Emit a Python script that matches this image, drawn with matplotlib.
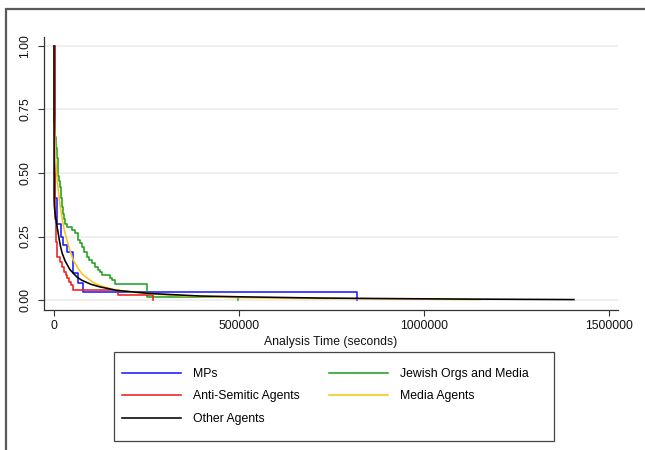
import matplotlib
matplotlib.use("Agg")
import matplotlib.pyplot as plt
from matplotlib.patches import Rectangle

plt.rcParams['font.family'] = ['Liberation Sans', 'DejaVu Sans']

# Kaplan-Meier survival estimates by agent group (time in seconds)
mp_t = [0, 1500, 4000, 9000, 19000, 25200, 34300, 51000, 65700, 79000, 818000]
mp_s = [1.0, 0.55, 0.40, 0.30, 0.25, 0.217, 0.188, 0.105, 0.066, 0.033, 0.0]

jo_t = [0, 900, 3000, 5500, 7300, 9500, 11700, 14000, 16200, 18500,
        20800, 24000, 27000, 29700, 34300, 50000, 56000, 64000, 70300, 76000,
        82000, 88400, 95000, 102000, 110000, 118000, 124300, 130000, 150000, 156000,
        165000, 250500, 497000]
jo_s = [1.0, 0.70, 0.64, 0.60, 0.56, 0.52, 0.49, 0.47, 0.446, 0.40,
        0.367, 0.34, 0.32, 0.30, 0.289, 0.276, 0.262, 0.236, 0.223, 0.21,
        0.19, 0.17, 0.157, 0.144, 0.131, 0.118, 0.111, 0.098, 0.085, 0.079,
        0.063, 0.013, 0.0]

as_t = [0, 1500, 3000, 5000, 7300, 16200, 22000, 27000, 31500, 36000, 41000, 46000,
        50500, 174000, 268000]
as_s = [1.0, 0.45, 0.32, 0.23, 0.17, 0.151, 0.131, 0.111, 0.098, 0.085, 0.072, 0.059,
        0.039, 0.02, 0.0]

md_t = [0, 300, 1500, 4000, 7000, 11700, 16000, 20800, 27000, 34300,
        43000, 52200, 65000, 75000, 88400, 105000, 124300, 160000, 213500, 260000,
        305000, 400000, 484000, 650000, 850000, 1000000, 1151000]
md_s = [1.0, 0.75, 0.66, 0.57, 0.50, 0.43, 0.38, 0.33, 0.28, 0.24,
        0.195, 0.157, 0.125, 0.105, 0.088, 0.07, 0.057, 0.042, 0.031, 0.025,
        0.02, 0.014, 0.01, 0.007, 0.005, 0.004, 0.002]

ot_t = [0, 300, 1000, 2700, 6000, 11700, 17000, 22000, 29700, 43000, 61000, 75000,
        100000, 124000, 170000, 259000, 395000, 500000, 720000, 900000, 1100000, 1405000]
ot_s = [1.0, 0.40, 0.37, 0.345, 0.31, 0.26, 0.215, 0.185, 0.155, 0.12, 0.092, 0.078,
        0.062, 0.052, 0.038, 0.026, 0.016, 0.013, 0.008, 0.006, 0.004, 0.002]

x_ticks = [0, 500000, 1000000, 1500000]
y_ticks = [0.0, 0.25, 0.5, 0.75, 1.0]
y_labels = ['0.00', '0.25', '0.50', '0.75', '1.00']

fig = plt.figure(figsize=(6.45, 4.5), dpi=100)
ax = fig.add_axes([44 / 645, 1 - 310 / 450, 574 / 645, 273 / 450])

lw = 1.15
h_mp, = ax.plot(mp_t, mp_s, drawstyle='steps-post', color='#1a1aff', lw=lw, label='MPs')
h_jo, = ax.plot(jo_t, jo_s, drawstyle='steps-post', color='#22a022', lw=lw,
                label='Jewish Orgs and Media')
h_as, = ax.plot(as_t, as_s, drawstyle='steps-post', color='#f01e1e', lw=lw,
                label='Anti-Semitic Agents')
h_md, = ax.plot(md_t, md_s, color='#f5c518', lw=lw, label='Media Agents')
h_ot, = ax.plot(ot_t, ot_s, color='black', lw=lw, label='Other Agents')

ax.set_xlim(-27000, 1524000)
ax.set_ylim(-0.039, 1.035)
ax.set_xticks(x_ticks)
ax.set_xticklabels([str(v) for v in x_ticks])
ax.set_yticks(y_ticks)
ax.set_yticklabels(y_labels, rotation=90, va='center')

for y in y_ticks:
    ax.axhline(y, color='#ebebeb', lw=1.1, zorder=0)

for s in ['top', 'right']:
    ax.spines[s].set_visible(False)
for s in ['left', 'bottom']:
    ax.spines[s].set_color('#333333')
    ax.spines[s].set_linewidth(0.9)
ax.tick_params(axis='both', length=4, width=0.8, color='#333333', labelsize=8.8,
               labelcolor='#111111')
ax.tick_params(axis='y', pad=5)
ax.tick_params(axis='x', pad=3)
ax.set_xlabel('Analysis Time (seconds)', fontsize=8.8, labelpad=3, color='#111111')

# legend, filled row by row like the original layout
handles = [h_mp, h_as, h_ot, h_jo, h_md]
fig.legend(handles=handles, labels=[h.get_label() for h in handles], ncol=2,
           loc='upper left', bbox_to_anchor=(122 / 645, 1 - 368 / 450),
           frameon=False, fontsize=8.8, handlelength=4.8, handletextpad=1.0,
           columnspacing=2.4, labelspacing=0.85, borderpad=0, borderaxespad=0)
fig.patches.append(Rectangle((114 / 645, 1 - 441 / 450), 440 / 645, 89 / 450,
                             transform=fig.transFigure, fill=False,
                             edgecolor='#444444', lw=0.9))

# outer frame around the graph region
fig.patches.append(Rectangle((5.5 / 645, -0.05), 1.2, 1.05 - 9.5 / 450,
                             transform=fig.transFigure, fill=False,
                             edgecolor='#5a5a5a', lw=1.6))

fig.savefig('out.png', dpi=100)
